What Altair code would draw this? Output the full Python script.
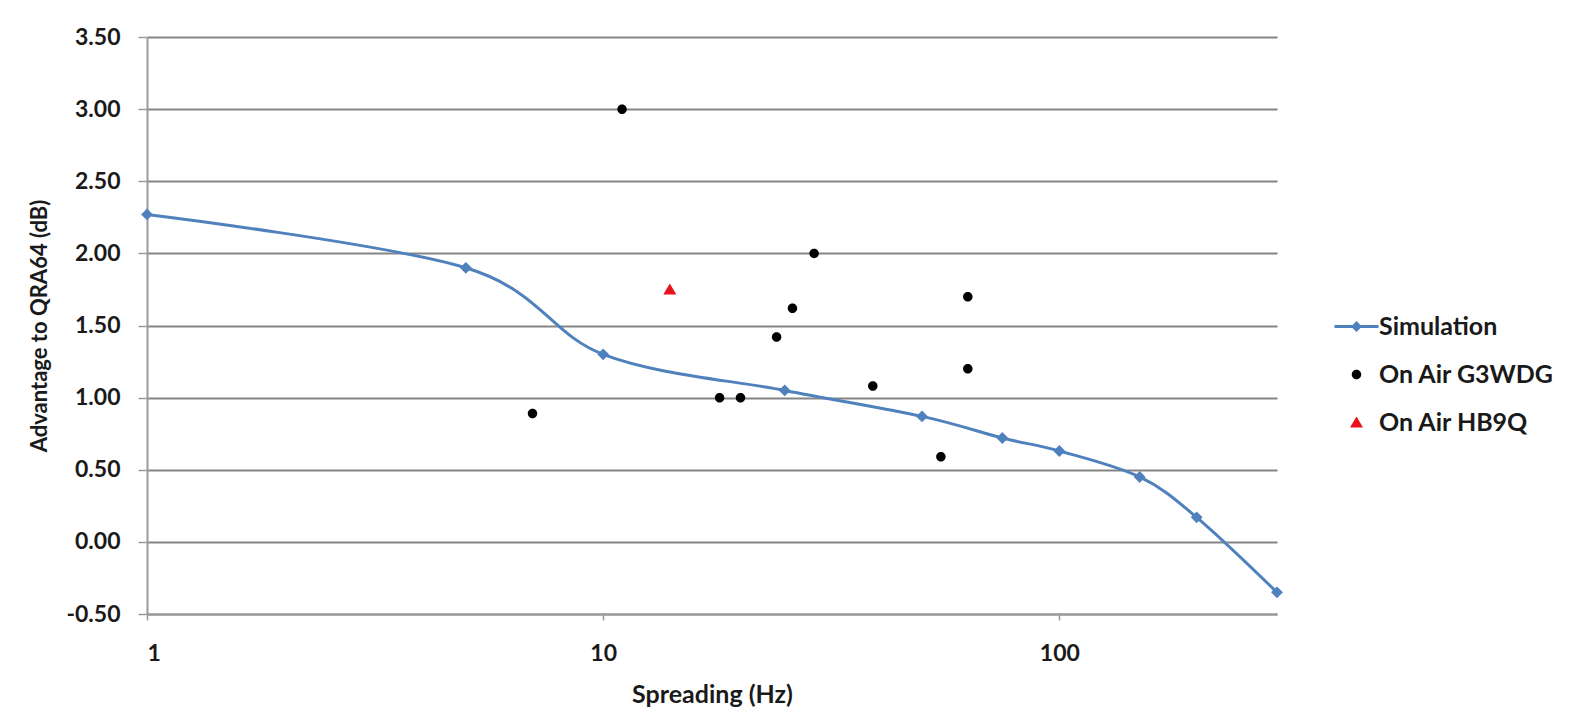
import altair as alt
import pandas as pd

# Simulation curve
sim_x = [1, 5, 10, 25, 50, 75, 100, 150, 200, 300]
sim_y = [2.27, 1.90, 1.30, 1.05, 0.87, 0.72, 0.63, 0.45, 0.17, -0.35]

# On-air measurements G3WDG
g3_x = [7, 11, 18, 20, 24, 26, 29, 39, 55, 63, 63]
g3_y = [0.89, 3.00, 1.00, 1.00, 1.42, 1.62, 2.00, 1.08, 0.59, 1.70, 1.20]

# On-air measurement HB9Q
hb_x = [14]
hb_y = [1.75]

series_names = ["Simulation", "On Air G3WDG", "On Air HB9Q"]
series_colors = ["#4F81BD", "#000000", "#E8101A"]
y_ticks = [-0.5, 0.0, 0.5, 1.0, 1.5, 2.0, 2.5, 3.0, 3.5]
x_ticks = [1, 10, 100]

sim_df = pd.DataFrame({"x": sim_x, "y": sim_y, "series": "Simulation"})
obs_df = pd.concat([
    pd.DataFrame({"x": g3_x, "y": g3_y, "series": "On Air G3WDG"}),
    pd.DataFrame({"x": hb_x, "y": hb_y, "series": "On Air HB9Q"}),
], ignore_index=True)

FONT = "Lato"
# symbol shapes (unit paths, drawn at size 100 -> 5 px per unit); each carries an
# invisible zero-area span of equal width so the legend symbols line up
sim_path = "M-4.4,-0.3H4.4V0.3H-4.4Z M0,-1.1L1.1,0L0,1.1L-1.1,0Z"
dot_path = "M-4.4,0L4.4,0Z M0.95,0A0.95,0.95,0,1,1,-0.95,0A0.95,0.95,0,1,1,0.95,0Z"
tri_path = "M-4.4,0L4.4,0Z M0,-1.2L1.3,1.0L-1.3,1.0Z"

xenc = alt.X("x:Q", scale=alt.Scale(type="log", domain=[1, 300]),
             axis=alt.Axis(values=x_ticks, format="d", title="Spreading (Hz)", grid=False,
                           tickSize=6, labelPadding=22, titlePadding=17, titleFontSize=25))
yenc = alt.Y("y:Q", scale=alt.Scale(domain=[-0.5, 3.5], nice=False),
             axis=alt.Axis(values=y_ticks, title="Advantage to QRA64 (dB)",
                           labelExpr="replace(format(datum.value, '.2f'), '\u2212', '-')",
                           grid=True, tickSize=9, labelPadding=18, titlePadding=14,
                           titleFontSize=22))

line = alt.Chart(sim_df).mark_line(interpolate="cardinal", color="#4F81BD", strokeWidth=3).encode(
    x=xenc, y=yenc)
diamonds = alt.Chart(sim_df).mark_point(shape="diamond", filled=True, size=140,
                                        color="#4F81BD", opacity=1).encode(x=xenc, y=yenc)

obs = alt.Chart(obs_df).mark_point(filled=True, opacity=1, size=100).encode(
    x=xenc, y=yenc,
    color=alt.Color("series:N", title=None,
                    scale=alt.Scale(domain=series_names, range=series_colors)),
    shape=alt.Shape("series:N", title=None,
                    scale=alt.Scale(domain=series_names, range=[sim_path, dot_path, tri_path])),
)

chart = alt.layer(line, diamonds, obs).properties(
    width=1130, height=577,
    autosize=alt.AutoSizeParams(type="none"),
    padding={"left": 139, "top": 29, "right": 285, "bottom": 93},
    background="white",
).configure_view(stroke=None).configure_axis(
    labelFont=FONT, labelFontSize=23, labelFontWeight="bold", labelColor="#1a1a1a",
    titleFont=FONT, titleFontWeight="bold", titleColor="#1a1a1a",
    domainColor="#9a9a9a", domainWidth=2, tickColor="#9a9a9a", tickWidth=1.5,
    gridColor="#858585", gridWidth=2, gridOpacity=1,
).configure_legend(
    orient="none", legendX=1197, legendY=277, padding=0,
    labelFont=FONT, labelFontSize=25, labelFontWeight="bold", labelColor="#1a1a1a",
    labelOffset=10, labelLimit=400, rowPadding=22, symbolStrokeWidth=0, symbolSize=100,
)

chart.save("out.html", embed_options={"renderer": "svg", "actions": False})
